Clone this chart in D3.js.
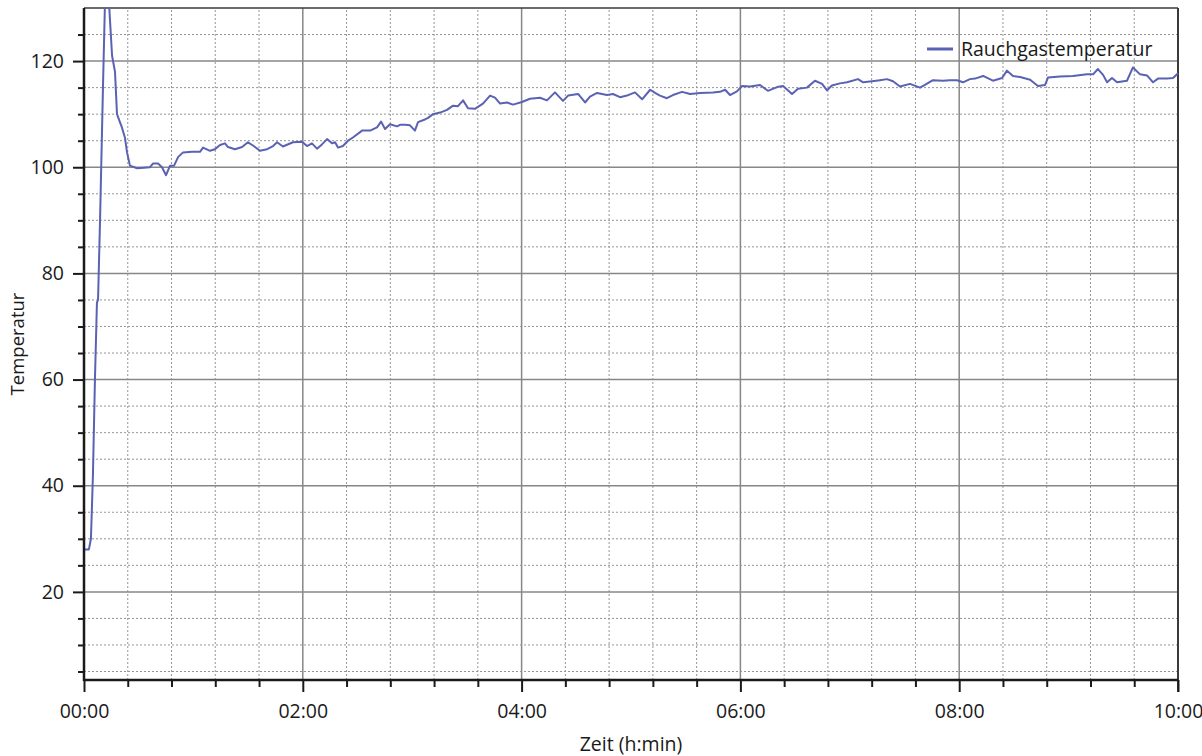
<!DOCTYPE html>
<html>
<head>
<meta charset="utf-8">
<script src="https://cdn.jsdelivr.net/npm/d3@7"></script>
<style>
  body { margin: 0; background: #fff; }
  svg text { font-family: "Open Sans", "Noto Sans", sans-serif; fill: #1a1a1a; }
</style>
</head>
<body>
<div id="viz"></div>
<script>
// time in minutes
const minutes = [0, 2.7, 3.8, 4.9, 6.0, 7.1, 7.7, 8.8, 10.4, 11.5, 13.7, 15.4, 17.0, 18.1, 19.7, 20.8, 22.5, 23.6, 25.2, 29.1,
  32.9, 36.2, 37.8, 40.6, 42.8, 45.0, 47.2, 49.4, 51.6, 54.3, 59.2, 63.6, 65.3, 69.1, 71.8, 74.6, 77.3, 79.0, 82.8, 86.7,
  89.9, 92.7, 96.5, 100.4, 103.7, 105.9, 109.1, 114.6, 119.6, 122.3, 125.0, 127.8, 130.5, 133.3, 136.0, 137.7, 139.3, 142.0, 144.8, 147.5,
  152.5, 156.9, 160.7, 162.9, 165.1, 167.8, 171.7, 173.3, 176.1, 178.8, 181.5, 183.2, 187.0, 188.7, 191.4, 195.3, 199.1, 202.4, 205.1, 207.9,
  210.6, 214.4, 218.8, 222.7, 225.4, 228.2, 232.0, 235.3, 240.2, 244.6, 250.1, 253.9, 258.3, 262.7, 265.5, 271.0, 274.8, 277.5, 281.4, 286.8,
  290.1, 294.0, 297.8, 302.2, 306.1, 310.5, 313.2, 315.9, 319.7, 323.0, 328.0, 332.4, 337.9, 345.0, 348.8, 351.6, 354.3, 358.1, 360.9, 365.3,
  370.8, 375.1, 380.1, 383.4, 388.3, 391.6, 396.5, 400.9, 404.8, 407.5, 410.2, 414.6, 418.5, 424.5, 427.3, 432.2, 436.6, 440.4, 443.7, 447.5,
  453.0, 458.5, 461.2, 465.6, 471.1, 474.9, 478.8, 482.1, 485.9, 488.7, 493.1, 498.5, 503.5, 506.2, 509.5, 513.4, 518.9, 523.2, 527.1, 528.7,
  535.3, 542.4, 550.1, 553.4, 556.1, 558.9, 561.1, 563.8, 566.6, 572.0, 575.3, 579.2, 583.0, 586.3, 589.0, 594.0, 597.3, 600]

// Rauchgastemperatur
const temps = [28, 28, 30, 42, 60, 74.5, 75, 90, 115, 131, 131, 121, 118, 110, 108.5, 107.5, 105.5, 102.8, 100.3, 99.8,
  99.9, 100, 100.7, 100.7, 100, 98.5, 100.3, 100.3, 101.9, 102.8, 102.9, 102.9, 103.7, 103.1, 103.4, 104.2, 104.5, 103.8, 103.4, 103.8,
  104.7, 104.1, 103.1, 103.4, 104, 104.7, 103.9, 104.7, 104.8, 104, 104.5, 103.5, 104.3, 105.3, 104.5, 104.7, 103.7, 104, 105, 105.6,
  106.9, 106.9, 107.5, 108.6, 107.2, 108.1, 107.7, 108, 108, 107.9, 106.9, 108.5, 109, 109.3, 110, 110.3, 110.8, 111.6, 111.5, 112.6,
  111.1, 111, 112, 113.5, 113.1, 112, 112.2, 111.8, 112.3, 112.9, 113.1, 112.6, 114.1, 112.5, 113.5, 113.8, 112.2, 113.3, 114, 113.6,
  113.8, 113.2, 113.5, 114.1, 112.8, 114.6, 114, 113.5, 113, 113.6, 114.2, 113.8, 114, 114.1, 114.2, 114.6, 113.6, 114.3, 115.3, 115.2,
  115.5, 114.4, 115.1, 115.3, 113.8, 114.8, 115, 116.3, 115.7, 114.5, 115.4, 115.8, 116, 116.6, 116, 116.2, 116.4, 116.6, 116.2, 115.2,
  115.7, 115, 115.5, 116.4, 116.3, 116.4, 116.4, 116, 116.6, 116.7, 117.2, 116.3, 116.8, 118.2, 117.2, 117, 116.5, 115.3, 115.5, 116.9,
  117.1, 117.2, 117.5, 117.5, 118.5, 117.4, 116, 116.8, 116, 116.3, 118.8, 117.5, 117.3, 116, 116.7, 116.7, 116.8, 117.7]

const seriesName = 'Rauchgastemperatur'
const yMajor = [20, 40, 60, 80, 100, 120]
const yMinor = d3.range(5, 130, 5).filter(v => v % 20 !== 0)
const xMajor = [0, 120, 240, 360, 480, 600]
const xMinor = d3.range(24, 600, 24).filter(v => v % 120 !== 0)
const xLabels = ['00:00', '02:00', '04:00', '06:00', '08:00', '10:00']

let width = 1202,
    height = 756,
    margin = {top: 8, right: 24, bottom: 76, left: 84}

let x = d3.scaleLinear()
          .domain([0, 600])
          .range([margin.left, width - margin.right])

let y = d3.scaleLinear()
          .domain([3.4, 130])
          .range([height - margin.bottom, margin.top])

let svg = d3.select('#viz')
            .append('svg')
            .attr('width', width)
            .attr('height', height)

const x0 = x.range()[0], x1 = x.range()[1]
const y0 = y.range()[0], y1 = y.range()[1]

// minor grid (dotted)
svg.append('g')
   .selectAll('line')
   .data(yMinor)
   .enter()
     .append('line')
     .attr('x1', x0).attr('x2', x1)
     .attr('y1', d => y(d)).attr('y2', d => y(d))
     .style('stroke', '#959595')
     .style('stroke-dasharray', '2,2')

svg.append('g')
   .selectAll('line')
   .data(xMinor)
   .enter()
     .append('line')
     .attr('y1', y0).attr('y2', y1)
     .attr('x1', d => x(d)).attr('x2', d => x(d))
     .style('stroke', '#959595')
     .style('stroke-dasharray', '2,2')

// major grid
svg.append('g')
   .selectAll('line')
   .data(yMajor)
   .enter()
     .append('line')
     .attr('x1', x0).attr('x2', x1)
     .attr('y1', d => y(d)).attr('y2', d => y(d))
     .style('stroke', '#878787')
     .style('stroke-width', 1.5)

svg.append('g')
   .selectAll('line')
   .data(xMajor)
   .enter()
     .append('line')
     .attr('y1', y0).attr('y2', y1)
     .attr('x1', d => x(d)).attr('x2', d => x(d))
     .style('stroke', '#878787')
     .style('stroke-width', 1.5)

// frame top/right
svg.append('line')
   .attr('x1', x0).attr('x2', x1).attr('y1', y1).attr('y2', y1)
   .style('stroke', '#3a3a3a').style('stroke-width', 1.5)
svg.append('line')
   .attr('x1', x1).attr('x2', x1).attr('y1', y1).attr('y2', y0 + 12)
   .style('stroke', '#3a3a3a').style('stroke-width', 2)

// line series, clipped to plot area
svg.append('clipPath')
   .attr('id', 'plot-clip')
   .append('rect')
   .attr('x', x0).attr('y', y1)
   .attr('width', x1 - x0).attr('height', y0 - y1)

let line = d3.line()
             .x((d, i) => x(minutes[i]))
             .y(d => y(d))

svg.append('path')
   .datum(temps)
   .attr('clip-path', 'url(#plot-clip)')
   .attr('d', line)
   .style('fill', 'none')
   .style('stroke', '#5a62b3')
   .style('stroke-width', 2)
   .style('stroke-linejoin', 'round')

// axes
let yAxis = d3.axisLeft(y)
              .tickValues(yMajor)
              .tickSize(11)
              .tickPadding(9)
let yAxisMinor = d3.axisLeft(y)
                   .tickValues(yMinor)
                   .tickSize(6)
                   .tickFormat('')
let xAxis = d3.axisBottom(x)
              .tickValues(xMajor)
              .tickSize(12)
              .tickPadding(12)
              .tickFormat((d, i) => xLabels[i])
let xAxisMinor = d3.axisBottom(x)
                   .tickValues(xMinor)
                   .tickSize(7)
                   .tickFormat('')

function styleAxis(g) {
  g.select('.domain').remove()
  g.selectAll('line').style('stroke', '#1a1a1a').style('stroke-width', 2)
  g.selectAll('text').style('font-size', '19.5px').style('fill', '#1a1a1a')
}

svg.append('g').attr('transform', `translate(${x0},0)`).call(yAxisMinor).call(styleAxis)
svg.append('g').attr('transform', `translate(${x0},0)`).call(yAxis).call(styleAxis)
svg.append('g').attr('transform', `translate(0,${y0})`).call(xAxisMinor).call(styleAxis)
svg.append('g').attr('transform', `translate(0,${y0})`).call(xAxis).call(styleAxis)

// axis lines
svg.append('line')
   .attr('x1', x0).attr('x2', x0).attr('y1', y1).attr('y2', y0 + 1)
   .style('stroke', '#1a1a1a').style('stroke-width', 2.5)
svg.append('line')
   .attr('x1', x0 - 1).attr('x2', x1).attr('y1', y0).attr('y2', y0)
   .style('stroke', '#1a1a1a').style('stroke-width', 2.5)

// axis titles
svg.append('text')
   .attr('x', (x0 + x1) / 2)
   .attr('y', 751)
   .attr('text-anchor', 'middle')
   .style('font-size', '19.5px')
   .text('Zeit (h:min)')

svg.append('text')
   .attr('transform', `translate(24,${(y0 + y1) / 2}) rotate(-90)`)
   .attr('text-anchor', 'middle')
   .style('font-size', '18.5px')
   .text('Temperatur')

// legend
svg.append('line')
   .attr('x1', 927).attr('x2', 953).attr('y1', 49).attr('y2', 49)
   .style('stroke', '#5a62b3').style('stroke-width', 3)
svg.append('text')
   .attr('x', 961).attr('y', 56)
   .style('font-size', '19.5px')
   .text(seriesName)
</script>
</body>
</html>
